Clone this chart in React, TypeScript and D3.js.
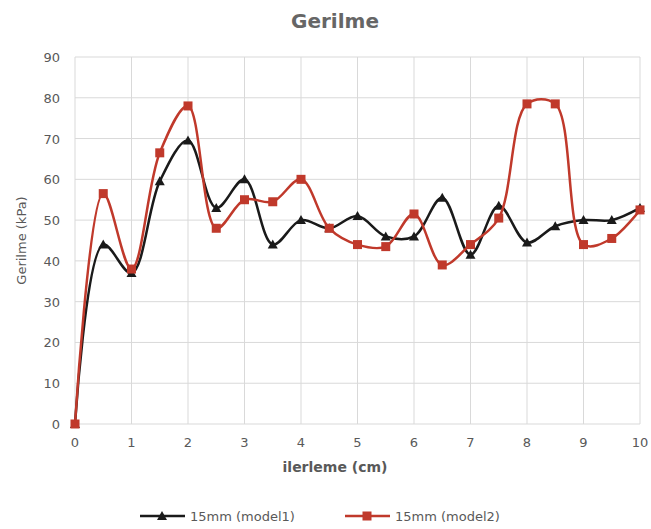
import React from 'react';
import * as d3 from 'd3';

const xValues = [0, 0.5, 1, 1.5, 2, 2.5, 3, 3.5, 4, 4.5, 5, 5.5, 6, 6.5, 7, 7.5, 8, 8.5, 9, 9.5, 10];
const model1 = [0, 44, 37, 59.5, 69.5, 53, 60, 44, 50, 48, 51, 46, 46, 55.5, 41.5, 53.5, 44.5, 48.5, 50, 50, 53];
const model2 = [0, 56.5, 38, 66.5, 78, 48, 55, 54.5, 60, 48, 44, 43.5, 51.5, 39, 44, 50.5, 78.5, 78.5, 44, 45.5, 52.5];
const xTicks = [0, 1, 2, 3, 4, 5, 6, 7, 8, 9, 10];
const yTicks = [0, 10, 20, 30, 40, 50, 60, 70, 80, 90];

const series = [
  { name: '15mm (model1)', values: model1, color: '#1a1a1a', marker: 'triangle' },
  { name: '15mm (model2)', values: model2, color: '#c0392b', marker: 'square' },
];

const W = 651;
const H = 529;
const font = 'Verdana, "DejaVu Sans", sans-serif';

export default function App() {
  const x = d3.scaleLinear().domain([0, 10]).range([75, 640]);
  const y = d3.scaleLinear().domain([0, 90]).range([424, 57]);

  // smoothed like the spreadsheet's "smooth line"
  const line = d3
    .line<number>()
    .x((_, i) => x(xValues[i]))
    .y((d) => y(d))
    .curve(d3.curveCatmullRom.alpha(0.5));

  const marker = (type: string, cx: number, cy: number, color: string, key: string) =>
    type === 'triangle' ? (
      <path key={key} d={`M${cx},${cy - 5}L${cx + 5},${cy + 4}L${cx - 5},${cy + 4}Z`} fill={color} />
    ) : (
      <rect key={key} x={cx - 4.5} y={cy - 4.5} width={9} height={9} fill={color} />
    );

  return (
    <svg width={W} height={H} style={{ position: 'absolute', left: 0, top: 0, background: '#fff' }}>
      <text x={335} y={28} textAnchor="middle" fontFamily={font} fontSize={20} fontWeight="bold" fill="#666">
        Gerilme
      </text>

      {/* grid */}
      {yTicks.map((t) => (
        <line key={'gy' + t} x1={x(0)} x2={x(10)} y1={y(t)} y2={y(t)} stroke="#d9d9d9" strokeWidth={1} />
      ))}
      {xTicks.map((t) => (
        <line key={'gx' + t} x1={x(t)} x2={x(t)} y1={y(0)} y2={y(90)} stroke="#d9d9d9" strokeWidth={1} />
      ))}

      {/* tick labels */}
      {yTicks.map((t) => (
        <text key={'ty' + t} x={60} y={y(t) + 5} textAnchor="end" fontFamily={font} fontSize={13} fill="#595959">
          {t}
        </text>
      ))}
      {xTicks.map((t) => (
        <text key={'tx' + t} x={x(t)} y={447} textAnchor="middle" fontFamily={font} fontSize={13} fill="#595959">
          {t}
        </text>
      ))}

      <text x={335} y={472} textAnchor="middle" fontFamily={font} fontSize={14} fontWeight="bold" fill="#595959">
        ilerleme (cm)
      </text>
      <text
        transform={`translate(26,${y(45)}) rotate(-90)`}
        textAnchor="middle"
        fontFamily={font}
        fontSize={13}
        fill="#595959"
      >
        Gerilme (kPa)
      </text>

      {/* series */}
      {series.map((s) => (
        <g key={s.name}>
          <path d={line(s.values) || ''} fill="none" stroke={s.color} strokeWidth={2.5} />
          {s.values.map((v, i) => marker(s.marker, x(xValues[i]), y(v), s.color, s.name + i))}
        </g>
      ))}

      {/* legend */}
      {series.map((s, i) => {
        const lx = 140 + i * 205;
        return (
          <g key={'lg' + s.name}>
            <line x1={lx} x2={lx + 45} y1={516} y2={516} stroke={s.color} strokeWidth={2.5} />
            {marker(s.marker, lx + 22, 516, s.color, 'lm' + i)}
            <text x={lx + 50} y={521} fontFamily={font} fontSize={13} fill="#595959">
              {s.name}
            </text>
          </g>
        );
      })}
    </svg>
  );
}
